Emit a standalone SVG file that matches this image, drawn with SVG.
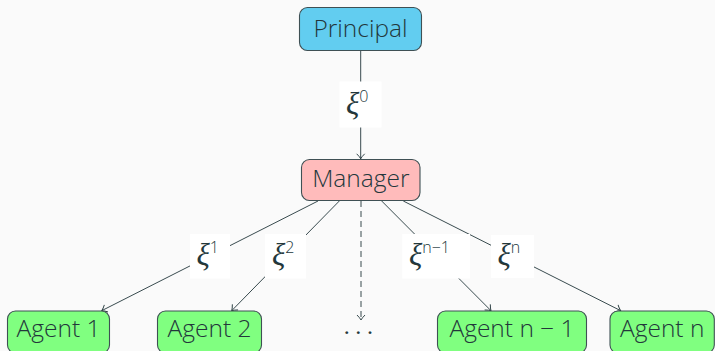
<svg xmlns="http://www.w3.org/2000/svg" width="715" height="351" viewBox="0 0 715 351">
<defs>
<style>
.node rect{stroke:#3f5054;stroke-width:1.1}
.node text{font-family:"Open Sans","Noto Sans",sans-serif;font-weight:300;font-size:24.5px;fill:#23373b;text-anchor:middle}
.edge{stroke:#23373b;stroke-width:0.9;fill:none;marker-end:url(#arr)}
.dash{stroke-dasharray:6,4}
.lbl rect{fill:#ffffff}
.xi{font-family:"Liberation Serif","DejaVu Serif",serif;font-style:italic;font-size:31px;fill:#23373b}
.sup{font-family:"Open Sans","Noto Sans",sans-serif;font-weight:300;font-size:16px;fill:#23373b}
.dots{font-family:"Liberation Serif",serif;font-size:24px;fill:#23373b;text-anchor:middle}
</style>
<marker id="arr" markerUnits="userSpaceOnUse" markerWidth="12" markerHeight="12" viewBox="-7 -6 8 12" refX="0" refY="0" orient="auto">
<path d="M-5,-4 Q-2,-1 0,0 Q-2,1 -5,4" fill="none" stroke="#23373b" stroke-width="0.9"/>
</marker>
</defs>
<rect x="0" y="0" width="715" height="351" fill="#fafafa"/>

<g id="connectors">
<line class="edge" x1="360.7" y1="50.7" x2="360.7" y2="158.8"/>
<line class="edge" x1="318" y1="201" x2="101.7" y2="310.7"/>
<line class="edge" x1="339.3" y1="201" x2="231.7" y2="310.7"/>
<line class="edge dash" x1="361" y1="201" x2="361" y2="320"/>
<line class="edge" x1="381.7" y1="201" x2="491" y2="310.7"/>
<line class="edge" x1="403.3" y1="201" x2="620.7" y2="310.7"/>
<g class="lbl">
<rect x="339.5" y="81.5" width="42" height="46"/>
<text x="346" y="114"><tspan class="xi">ξ</tspan><tspan class="sup" dy="-12">0</tspan></text>
<rect x="190" y="234" width="40" height="44.5"/>
<text x="196.5" y="265"><tspan class="xi">ξ</tspan><tspan class="sup" dy="-12">1</tspan></text>
<rect x="265" y="234" width="41" height="44.5"/>
<text x="272" y="265"><tspan class="xi">ξ</tspan><tspan class="sup" dy="-12">2</tspan></text>
<rect x="402.3" y="234" width="67.7" height="44.5"/>
<text x="409" y="265"><tspan class="xi">ξ</tspan><tspan class="sup" dy="-12">n−1</tspan></text>
<rect x="491" y="235" width="43" height="43"/>
<text x="497.5" y="265"><tspan class="xi">ξ</tspan><tspan class="sup" dy="-12">n</tspan></text>
</g>
<text class="dots" x="346.7 358.3 370" y="333.5">...</text>
</g>

<g id="principal" class="node">
<rect x="299.5" y="7.5" width="122" height="43" rx="8" fill="#62cdf0"/>
<text x="360.5" y="37">Principal</text>
</g>
<g id="manager" class="node">
<rect x="301.5" y="159.5" width="118.5" height="41" rx="8" fill="#ffbbbb"/>
<text x="360.8" y="187">Manager</text>
</g>
<g id="agent1" class="node">
<rect x="7.5" y="311" width="102" height="42" rx="8" fill="#80ff80"/>
<text x="58.5" y="337">Agent 1</text>
</g>
<g id="agent2" class="node">
<rect x="157.5" y="311" width="104" height="42" rx="8" fill="#80ff80"/>
<text x="209.5" y="337">Agent 2</text>
</g>
<g id="agentn1" class="node">
<rect x="437.5" y="311" width="149" height="42" rx="8" fill="#80ff80"/>
<text x="512" y="337">Agent n − 1</text>
</g>
<g id="agentn" class="node">
<rect x="610" y="311" width="104.3" height="42" rx="8" fill="#80ff80"/>
<text x="662.2" y="337">Agent n</text>
</g>
</svg>
